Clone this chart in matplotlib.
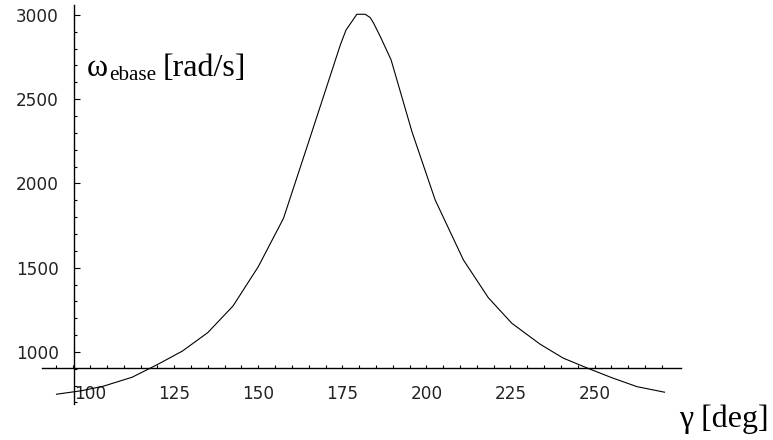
import matplotlib
matplotlib.use("Agg")
import matplotlib.pyplot as plt
import numpy as np

# Data
gamma_deg = [90, 97.5, 104, 112.5, 120, 127.5, 135, 142.5, 150, 157.5, 165, 172.5,
             174.4, 176.1, 177.8, 179.3, 181.8, 183.3, 184.3, 186.3, 189.5, 195.7,
             202.6, 211, 218.4, 225.4, 233.8, 240.7, 248, 255, 262.6, 270.8]
omega_ebase = [749, 770, 797, 850, 925, 1006, 1115, 1273, 1506, 1793, 2248, 2706,
               2822, 2911, 2960, 3004, 3004, 2984, 2951, 2871, 2733, 2307,
               1902, 1546, 1322, 1170, 1046, 963, 903, 848, 794, 761]

x_major = [100, 125, 150, 175, 200, 225, 250]
x_minor = list(range(90, 275, 5))
y_major = [1000, 1500, 2000, 2500, 3000]
y_minor = list(range(700, 3001, 100))

W, H = 773, 440
fig = plt.figure(figsize=(W / 100, H / 100), dpi=100)
fig.patch.set_facecolor("white")

left_px, right_px, top_px, bottom_px = 41.7, 681.0, 5.0, 404.0
ax = fig.add_axes([left_px / W, 1 - bottom_px / H,
                   (right_px - left_px) / W, (bottom_px - top_px) / H])
ax.set_facecolor("white")

ax.plot(gamma_deg, omega_ebase, color="black", lw=0.8, solid_joinstyle="miter")

ax.set_xlim(85.6, 275.7)
ax.set_ylim(691, 3059)

ax.spines["top"].set_visible(False)
ax.spines["right"].set_visible(False)
ax.spines["left"].set_position(("data", 95.2))
ax.spines["bottom"].set_position(("data", 903))
for s in ("left", "bottom"):
    ax.spines[s].set_linewidth(1.0)
    ax.spines[s].set_color("black")

ax.set_xticks(x_major)
ax.set_xticks(x_minor, minor=True)
ax.set_yticks(y_major)
ax.set_yticks(y_minor, minor=True)
ax.set_xticklabels([str(v) for v in x_major])
ax.set_yticklabels([str(v) for v in y_major])

ax.tick_params(axis="x", which="major", direction="in", length=2.3, width=0.8,
               pad=12.2, labelsize=12.2, colors="black", labelcolor="#222222")
ax.tick_params(axis="x", which="minor", direction="in", length=2.3, width=0.8, colors="black")
ax.tick_params(axis="y", which="major", direction="in", length=4.0, width=0.8,
               pad=11.0, labelsize=12.2, colors="black", labelcolor="#222222")
ax.tick_params(axis="y", which="minor", direction="in", length=2.3, width=0.8, colors="black")
for lab in ax.get_xticklabels() + ax.get_yticklabels():
    lab.set_fontfamily("DejaVu Sans")

serif = ["Liberation Serif", "DejaVu Serif"]

def ftext(xp, yp, s, size, **kw):
    fig.text(xp / W, 1 - yp / H, s, fontsize=size, family=serif,
             va="baseline", ha="left", color="black", **kw)

ftext(87, 76, "\u03c9", 23)
ftext(109.5, 80, "ebase", 15.2)
ftext(162.5, 76, "[rad/s]", 23)
ftext(679, 427, "\u03b3 [deg]", 23)

fig.savefig("out.png", dpi=100, facecolor="white")
